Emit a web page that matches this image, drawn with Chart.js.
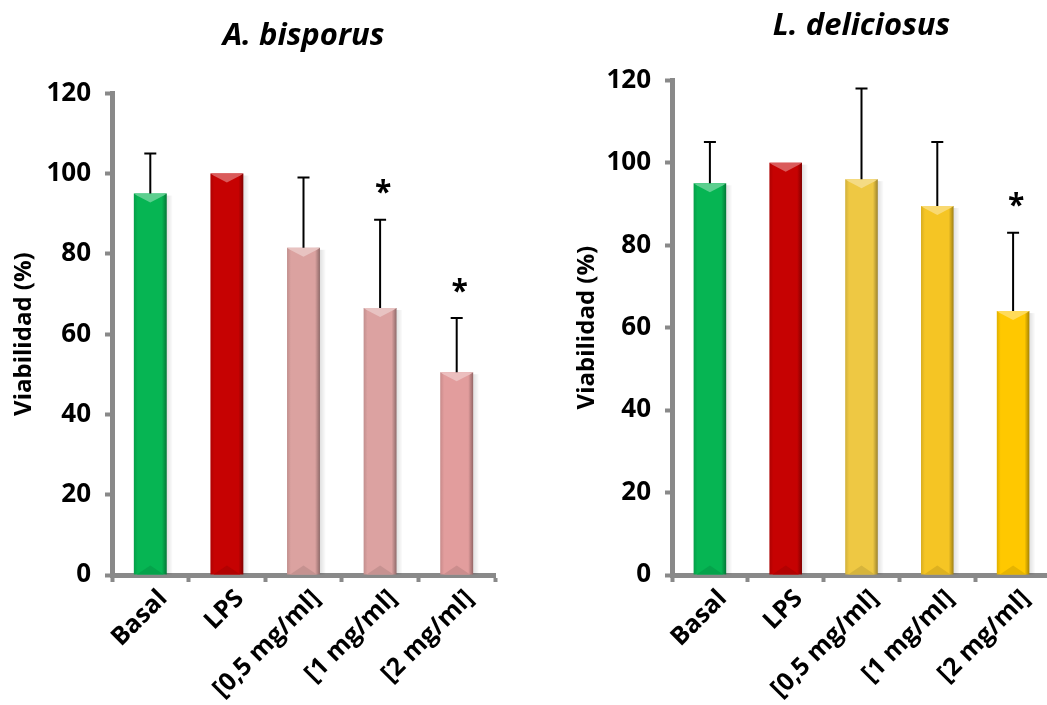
<!DOCTYPE html>
<html>
<head>
<meta charset="utf-8">
<script src="https://cdn.jsdelivr.net/npm/chart.js@4.4.1/dist/chart.umd.min.js"></script>
<style>
  html, body { margin: 0; padding: 0; background: #fff; overflow: hidden; }
  body { width: 1047px; height: 705px; position: relative; }
  .panel { position: absolute; top: 0; height: 705px; }
  #left { left: 0; width: 520px; }
  #right { left: 540px; width: 520px; }
</style>
</head>
<body>
<div class="panel" id="left"><canvas id="cLeft"></canvas></div>
<div class="panel" id="right"><canvas id="cRight"></canvas></div>
<script>
// Treatment groups shared by both panels
const categories = ['Basal', 'LPS', '[0,5 mg/ml]', '[1 mg/ml]', '[2 mg/ml]'];

// A. bisporus: mean viability (%) and upper error (SD)
const bisporusMean = [95, 100, 81.5, 66.5, 50.5];
const bisporusErr  = [10, 0, 17.5, 22, 13.5];
const bisporusSig  = [false, false, false, true, true];
const bisporusColors = ['#06B553', '#C60202', '#DBA2A0', '#DCA2A1', '#E29D9D'];

// L. deliciosus: mean viability (%) and upper error (SD)
const deliciosusMean = [95, 100, 96, 89.5, 64];
const deliciosusErr  = [10, 0, 22, 15.5, 19];
const deliciosusSig  = [false, false, false, false, true];
const deliciosusColors = ['#06B553', '#C60202', '#EEC843', '#F5C524', '#FFC800'];

// Y axis ticks
const yTicks = [0, 20, 40, 60, 80, 100, 120];

const FONT = "'Open Sans', 'DejaVu Sans', sans-serif";
const AXIS_GREY = '#898989';

function shade(hex, f) {
  const n = parseInt(hex.slice(1), 16);
  let r = (n >> 16) & 255, g = (n >> 8) & 255, b = n & 255;
  if (f < 0) { r *= 1 + f; g *= 1 + f; b *= 1 + f; }
  else { r += (255 - r) * f; g += (255 - g) * f; b += (255 - b) * f; }
  return `rgb(${Math.round(r)},${Math.round(g)},${Math.round(b)})`;
}

// Bevelled bar look: edge shading plus light top and dark bottom facets
const bevelPlugin = {
  id: 'bevel',
  beforeDatasetsDraw(chart) {
    const ctx = chart.ctx;
    const meta = chart.getDatasetMeta(0);
    const colors = chart.data.datasets[0].baseColors;
    meta.data.forEach((bar, i) => {
      const w = bar.width, x0 = bar.x - w / 2;
      const g = ctx.createLinearGradient(x0, 0, x0 + w, 0);
      const c = colors[i];
      g.addColorStop(0, shade(c, -0.12));
      g.addColorStop(0.12, c);
      g.addColorStop(0.85, c);
      g.addColorStop(1, shade(c, -0.35));
      bar.options.backgroundColor = g;
    });
  },
  afterDatasetsDraw(chart) {
    const ctx = chart.ctx;
    const meta = chart.getDatasetMeta(0);
    const colors = chart.data.datasets[0].baseColors;
    meta.data.forEach((bar, i) => {
      const w = bar.width, x0 = bar.x - w / 2, x1 = bar.x + w / 2;
      const top = bar.y, base = bar.base, d = Math.min(9, (base - top) / 3);
      const c = colors[i];
      // soft shadow on the right side
      const sg = ctx.createLinearGradient(x1, 0, x1 + 6, 0);
      sg.addColorStop(0, 'rgba(0,0,0,0.12)');
      sg.addColorStop(1, 'rgba(0,0,0,0)');
      ctx.fillStyle = sg;
      ctx.fillRect(x1, top + 2, 6, base - top - 2);
      // top facet
      ctx.beginPath();
      ctx.moveTo(x0, top); ctx.lineTo(x1, top);
      ctx.lineTo(x1 - 3, top + 2); ctx.lineTo(bar.x, top + d); ctx.lineTo(x0 + 3, top + 2);
      ctx.closePath();
      ctx.fillStyle = shade(c, 0.35);
      ctx.fill();
      // bottom facet
      ctx.beginPath();
      ctx.moveTo(x0 + 3, base); ctx.lineTo(bar.x, base - d); ctx.lineTo(x1 - 3, base);
      ctx.closePath();
      ctx.fillStyle = shade(c, -0.1);
      ctx.fill();
    });
  }
};

// Upper error bars and significance asterisks
const errorPlugin = {
  id: 'errors',
  afterDatasetsDraw(chart) {
    const ctx = chart.ctx;
    const ds = chart.data.datasets[0];
    const y = chart.scales.y;
    const meta = chart.getDatasetMeta(0);
    ctx.save();
    meta.data.forEach((bar, i) => {
      const mean = ds.data[i], err = ds.errors[i];
      const yTop = y.getPixelForValue(mean + err);
      if (err > 0) {
        ctx.strokeStyle = '#000';
        ctx.lineWidth = 2;
        ctx.beginPath();
        ctx.moveTo(bar.x, bar.y);
        ctx.lineTo(bar.x, yTop);
        ctx.moveTo(bar.x - 6, yTop);
        ctx.lineTo(bar.x + 6, yTop);
        ctx.stroke();
      }
      if (ds.sig[i]) {
        ctx.fillStyle = '#000';
        ctx.font = `bold 30px ${FONT}`;
        ctx.textAlign = 'center';
        ctx.textBaseline = 'middle';
        ctx.fillText('*', bar.x + 3, yTop - 26);
      }
    });
    ctx.restore();
  }
};

function makeChart(id, title, means, errs, sig, colors, geom) {
  return new Chart(document.getElementById(id), {
    type: 'bar',
    data: {
      labels: categories,
      datasets: [{
        data: means,
        errors: errs,
        sig: sig,
        baseColors: colors,
        backgroundColor: colors,
        borderWidth: 0,
        barPercentage: 0.43,
        categoryPercentage: 1.0
      }]
    },
    options: {
      responsive: true,
      maintainAspectRatio: false,
      animation: false,
      layout: { padding: { left: 0, right: geom.padRight, top: 0, bottom: 0 } },
      plugins: {
        legend: { display: false },
        tooltip: { enabled: false },
        title: {
          display: true,
          text: title,
          fullSize: false,
          color: '#000',
          font: { family: FONT, size: 31, style: 'italic', weight: 'bold', lineHeight: 1.2 },
          padding: { top: geom.titleTop, bottom: geom.titleBottom }
        }
      },
      scales: {
        x: {
          afterFit(s) { s.height = 130; },
          border: { display: true, color: AXIS_GREY, width: 5 },
          grid: { display: true, offset: true, drawOnChartArea: false, drawTicks: true,
                  tickLength: 7, tickWidth: 4, tickColor: AXIS_GREY },
          ticks: {
            color: '#000', maxRotation: 45, minRotation: 45, padding: 2, labelOffset: 13,
            font: { family: FONT, size: 25, weight: 'bold' }
          }
        },
        y: {
          min: 0, max: 120,
          afterFit(s) { s.width = geom.yWidth; },
          afterBuildTicks(s) { s.ticks = yTicks.map(v => ({ value: v })); },
          border: { display: true, color: AXIS_GREY, width: 5 },
          grid: { display: true, drawOnChartArea: false, drawTicks: true,
                  tickLength: 7, tickWidth: 4, tickColor: AXIS_GREY },
          ticks: { color: '#000', padding: 14, font: { family: FONT, size: 26, weight: 'bold' } },
          title: {
            display: true, text: 'Viabilidad (%)', color: '#000',
            font: { family: FONT, size: 24, weight: 'bold' },
            padding: { top: geom.yTitlePad, bottom: 0 }
          }
        }
      }
    },
    plugins: [bevelPlugin, errorPlugin]
  });
}

makeChart('cLeft', 'A. bisporus', bisporusMean, bisporusErr, bisporusSig, bisporusColors,
  { padRight: 25, titleTop: 18, titleBottom: 38, yWidth: 112, yTitlePad: 10 });
makeChart('cRight', 'L. deliciosus', deliciosusMean, deliciosusErr, deliciosusSig, deliciosusColors,
  { padRight: 9, titleTop: 8, titleBottom: 35, yWidth: 132, yTitlePad: 33 });
</script>
</body>
</html>
